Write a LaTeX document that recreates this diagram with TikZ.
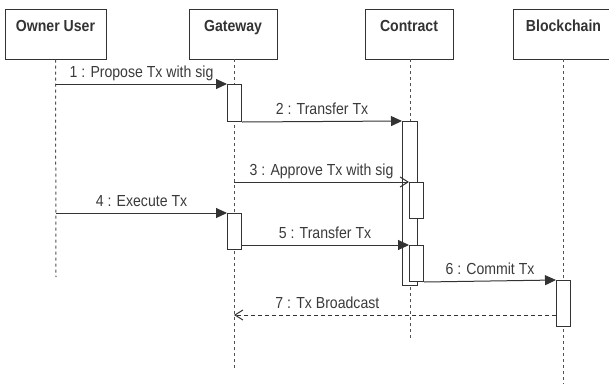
\documentclass[tikz,border=0pt]{standalone}
\usepackage{fontspec}
\newfontfamily\lsans[FakeStretch=0.88]{Liberation Sans}
\usetikzlibrary{arrows.meta}
\definecolor{ink}{HTML}{333333}
\definecolor{txt}{HTML}{3A3A3A}
\tikzset{
  actor/.style={draw=ink, line width=1pt, minimum height=50pt, inner sep=0pt},
  title/.style={font=\lsans\fontsize{16}{19}\selectfont\bfseries, text=ink, anchor=base, inner sep=0pt},
  lifeline/.style={draw=ink!85, line width=1pt, dash pattern=on 3pt off 3pt},
  act/.style={draw=ink, fill=white, line width=1pt, minimum width=14pt, inner sep=0pt, anchor=north west},
  msg/.style={draw=ink, line width=1pt, -{Triangle[length=11pt,width=10pt]}},
  openmsg/.style={draw=ink, line width=1pt, -{Straight Barb[length=8pt,width=10pt]}},
  retmsg/.style={draw=ink, line width=1pt, dash pattern=on 4pt off 3pt, -{Straight Barb[length=8pt,width=10pt]}},
  lbl/.style={font=\lsans\fontsize{16}{19}\selectfont, text=txt, text depth=0pt, inner sep=0pt, above=6.5pt}
}
\begin{document}
\begin{tikzpicture}[x=1pt,y=-1pt]
\useasboundingbox (0,0) rectangle (609,383);
\clip (0,0) rectangle (609,383);
% actor boxes
\node[actor, minimum width=101pt] (owner) at (55.5,34) {};
\node[actor, minimum width=88pt] (gate) at (233,34) {};
\node[actor, minimum width=88pt] (contract) at (409,34) {};
\node[actor, minimum width=101pt] (chain) at (563.5,34) {};
\node[title] (townerl) at (55.5,31) {Owner User};
\node[title] (tgate) at (233,31) {Gateway};
\node[title] (tcontract) at (409,31) {Contract};
\node[title] (tchain) at (563.5,31) {Blockchain};
% lifeline ends
\coordinate (ownerEnd) at (56,277);
\coordinate (gateTop) at (234,59);
\coordinate (gateEnd) at (234,369);
\coordinate (contractTop) at (410,59);
\coordinate (contractEnd) at (410,340);
\coordinate (chainTop) at (563.5,59);
\coordinate (chainEnd) at (563.5,390);
\draw[lifeline] (owner.south) -- (ownerEnd);
\draw[lifeline] (gateTop) -- (gateEnd);
\draw[lifeline] (contractTop) -- (contractEnd);
\draw[lifeline] (chainTop) -- (chainEnd);
% activations
\node[act, minimum height=37pt] (g1) at (227,84) {};
\node[act, minimum height=36pt] (g2) at (227,213) {};
\node[act, minimum width=15pt, minimum height=164pt] (c0) at (402,121) {};
\node[act, minimum height=36pt] (c3) at (409,182) {};
\node[act, minimum height=36pt] (c5) at (409,245) {};
\node[act, minimum height=46pt] (b6) at (556,280) {};
% message anchor points
\coordinate (m1s) at (56,84);
\coordinate (m3s) at (234,182);
\coordinate (m4s) at (56,213);
\coordinate (m5s) at (241,245);
\coordinate (m7s) at (556,315);
\coordinate (m7e) at (234,315);
% messages
\draw[msg] (m1s) -- (g1.north west) node[lbl, midway] {1 : Propose Tx with sig};
\draw[msg] (g1.south east) -- (c0.north west) node[lbl, midway] {2 : Transfer Tx};
\draw[openmsg] (m3s) -- (c3.north west) node[lbl, midway] {3 : Approve Tx with sig};
\draw[msg] (m4s) -- (g2.north west) node[lbl, midway] {4 : Execute Tx};
\draw[msg] (m5s) -- (c5.north west) node[lbl, midway] {5 : Transfer Tx};
\draw[msg] (c5.south east) -- (b6.north west) node[lbl, midway] {6 : Commit Tx};
\draw[retmsg] (m7s) -- (m7e) node[lbl, pos=0.71] {7 : Tx Broadcast};
\end{tikzpicture}
\end{document}
